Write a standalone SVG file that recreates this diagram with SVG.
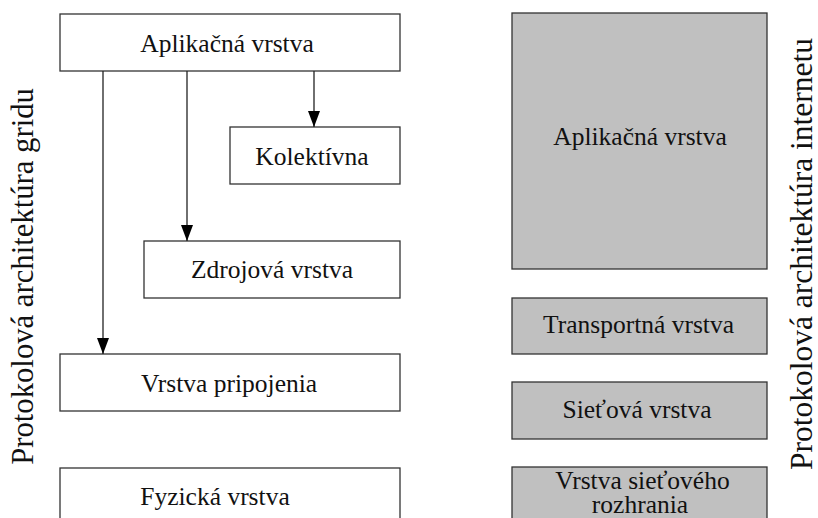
<svg xmlns="http://www.w3.org/2000/svg" width="818" height="518" viewBox="0 0 818 518">
<style>
.b{fill:#fff;stroke:#333;stroke-width:1.3}
.g{fill:#c0c0c0;stroke:#333;stroke-width:1.3}
.c{stroke:#222;stroke-width:1.3;fill:none}
</style>
<defs>
<marker id="ah" markerWidth="16" markerHeight="12" refX="16" refY="6" orient="auto" markerUnits="userSpaceOnUse">
<path d="M0,0 L16,6 L0,12 Z" fill="#000"/>
</marker>
</defs>
<rect width="818" height="518" fill="#fff"/>
<g font-family="'Liberation Serif', 'Times New Roman', 'DejaVu Serif', serif" fill="#111" text-anchor="middle">
<g id="grid-label" font-size="30.7"><text transform="translate(33,276.5) rotate(-90)">Protokolová architektúra gridu</text></g>
<g id="inet-label" font-size="31.5"><text transform="translate(812,254) rotate(-90)">Protokolová architektúra internetu</text></g>
<g font-size="25.5">
<g id="g-app"><rect class="b" x="60" y="14" width="340" height="57"/><text x="227" y="52">Aplikačná vrstva</text></g>
<g id="g-kol"><rect class="b" x="230" y="127" width="170" height="57"/><text x="312" y="165">Kolektívna</text></g>
<g id="g-zdr"><rect class="b" x="144" y="241" width="256" height="57"/><text x="272" y="278">Zdrojová vrstva</text></g>
<g id="g-pri"><rect class="b" x="60" y="354" width="340" height="57"/><text x="229" y="392">Vrstva pripojenia</text></g>
<g id="g-fyz"><rect class="b" x="60" y="468" width="340" height="70"/><text x="215" y="505">Fyzická vrstva</text></g>
<g id="i-app"><rect class="g" x="512" y="13" width="255" height="256"/><text x="640" y="145">Aplikačná vrstva</text></g>
<g id="i-tra"><rect class="g" x="512" y="298" width="255" height="56"/><text x="638.5" y="333">Transportná vrstva</text></g>
<g id="i-sie"><rect class="g" x="512" y="382" width="255" height="57"/><text x="637" y="418">Sieťová vrstva</text></g>
<g id="i-roz"><rect class="g" x="512" y="467" width="255" height="70"/><text x="642.5" y="489">Vrstva sieťového</text><text x="640" y="513">rozhrania</text></g>
</g>
</g>
<g id="connectors">
<line class="c" x1="314" y1="71" x2="314" y2="127" marker-end="url(#ah)"/>
<line class="c" x1="187" y1="71" x2="187" y2="241" marker-end="url(#ah)"/>
<line class="c" x1="103" y1="71" x2="103" y2="354" marker-end="url(#ah)"/>
</g>
</svg>
